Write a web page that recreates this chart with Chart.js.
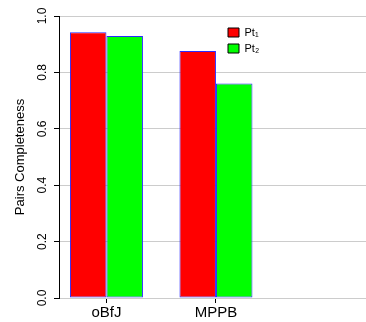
<!DOCTYPE html>
<html>
<head>
<meta charset="utf-8">
<script src="https://cdn.jsdelivr.net/npm/chart.js@4/dist/chart.umd.min.js"></script>
<style>
  html, body { margin: 0; padding: 0; background: #fff; }
  #wrap { width: 366px; height: 322px; }
</style>
</head>
<body>
<div id="wrap"><canvas id="pcChart"></canvas></div>
<script>
var categories = ['oBfJ', 'MPPB'];
var seriesNames = ['Pt\u2081', 'Pt\u2082'];
var pt1 = [0.942, 0.876];
var pt2 = [0.929, 0.761];
var yTicks = [0.0, 0.2, 0.4, 0.6, 0.8, 1.0];

// R barplot layout: each group takes 2 units plus 1 unit of space
function groupPos(i) { return 2 + 3 * i; }

function toPoints(vals) {
	return vals.map(function(v, i){ return { x: groupPos(i), y: v }; });
}

// move the legend inside the plot, top right like the original
var legendPos = {
	id: 'legendPos',
	afterLayout: function(chart) {
		var l = chart.legend;
		if (!l) return;
		var w = l.width, h = l.height;
		l.left = chart.chartArea.left + 164;
		l.top = chart.chartArea.top + 6;
		l.right = l.left + w;
		l.bottom = l.top + h;
	}
};

var ctx = document.getElementById('pcChart').getContext('2d');

var chart = new Chart(ctx, {
	type: 'bar',
	data: {
		datasets: [{
			label: seriesNames[0],
			data: toPoints(pt1),
			backgroundColor: '#ff0000',
			borderColor: '#2a2aff',
			borderWidth: 1,
			borderSkipped: false
		}, {
			label: seriesNames[1],
			data: toPoints(pt2),
			backgroundColor: '#00ff00',
			borderColor: '#2a2aff',
			borderWidth: 1,
			borderSkipped: false
		}]
	},
	options: {
		responsive: true,
		maintainAspectRatio: false,
		animation: false,
		categoryPercentage: 2 / 3,
		barPercentage: 1,
		layout: { padding: { top: 16, right: 0, bottom: 0, left: 0 } },
		plugins: {
			tooltip: { enabled: false },
			legend: {
				position: 'chartArea',
				align: 'start',
				labels: {
					boxWidth: 11,
					boxHeight: 9,
					padding: 5,
					color: '#000',
					font: { family: "'Liberation Sans', Arial, sans-serif", size: 11 },
					generateLabels: function(c) {
						var items = Chart.defaults.plugins.legend.labels.generateLabels(c);
						items.forEach(function(it){ it.strokeStyle = '#000'; it.lineWidth = 1; });
						return items;
					}
				}
			}
		},
		scales: {
			x: {
				type: 'linear',
				offset: false,
				min: 0.7,
				max: 9.11,
				afterBuildTicks: function(scale) {
					scale.ticks = categories.map(function(c, i){ return { value: groupPos(i) }; });
				},
				afterFit: function(scale) { scale.height = 24; },
				border: { display: false },
				grid: { offset: false, drawOnChartArea: false, drawTicks: true, tickLength: 5, tickColor: '#000' },
				ticks: {
					autoSkip: false,
					maxRotation: 0,
					padding: 1,
					color: '#000',
					font: { family: "'Liberation Sans', Arial, sans-serif", size: 15 },
					callback: function(v, i) { return categories[i]; }
				}
			},
			y: {
				min: 0,
				max: 1,
				afterBuildTicks: function(scale) {
					scale.ticks = yTicks.map(function(v){ return { value: v }; });
				},
				afterFit: function(scale) { scale.width = 59; },
				border: { display: true, color: '#000', width: 1 },
				grid: { color: '#cccccc', lineWidth: 1, tickLength: 5, tickColor: '#000' },
				ticks: {
					minRotation: 90,
					maxRotation: 90,
					crossAlign: 'center',
					padding: 3,
					color: '#000',
					font: { family: "'Liberation Sans', Arial, sans-serif", size: 12 },
					callback: function(v) { return v.toFixed(1); }
				},
				title: {
					display: true,
					text: 'Pairs Completeness',
					color: '#000',
					padding: { top: 13, bottom: 0 },
					font: { family: "'Liberation Sans', Arial, sans-serif", size: 13 }
				}
			}
		}
	},
	plugins: [legendPos]
});
</script>
</body>
</html>
